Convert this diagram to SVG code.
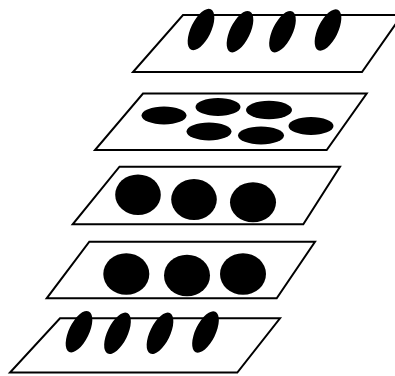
<svg xmlns="http://www.w3.org/2000/svg" width="395" height="376" viewBox="0 0 395 376">
<style>
.plane{fill:#fff;stroke:#000;stroke-width:2;stroke-linejoin:miter}
.dot{fill:#000}
</style>
<rect width="395" height="376" fill="#fff"/>
<g id="layer1">
<polygon class="plane" points="183,15 402,15 362,72 133,72"/>
<ellipse class="dot" cx="201" cy="29.5" rx="10" ry="22.5" transform="rotate(26 201 29.5)"/>
<ellipse class="dot" cx="240" cy="31.7" rx="10" ry="22.5" transform="rotate(26 240 31.7)"/>
<ellipse class="dot" cx="282.5" cy="31.7" rx="10" ry="22.5" transform="rotate(26 282.5 31.7)"/>
<ellipse class="dot" cx="328" cy="30" rx="10" ry="22.5" transform="rotate(26 328 30)"/>
</g>
<g id="layer2">
<polygon class="plane" points="143,93.5 366.7,93.5 326.7,150 95,150"/>
<ellipse class="dot" cx="164" cy="115.5" rx="22.5" ry="9"/>
<ellipse class="dot" cx="218" cy="107" rx="22.5" ry="9"/>
<ellipse class="dot" cx="269" cy="110" rx="23" ry="9.3"/>
<ellipse class="dot" cx="311" cy="126" rx="22.5" ry="9"/>
<ellipse class="dot" cx="209" cy="131.5" rx="22.5" ry="9"/>
<ellipse class="dot" cx="261" cy="135.5" rx="23" ry="9"/>
</g>
<g id="layer3">
<polygon class="plane" points="119.5,166.7 340,166.7 303.3,224.3 72.7,224.3"/>
<ellipse class="dot" cx="138" cy="194.7" rx="22.8" ry="20.3"/>
<ellipse class="dot" cx="194" cy="199.5" rx="22.8" ry="20.5"/>
<ellipse class="dot" cx="253" cy="202.3" rx="23" ry="20"/>
</g>
<g id="layer4">
<polygon class="plane" points="89.3,241.7 315,241.7 276.7,298.3 46.7,298.3"/>
<ellipse class="dot" cx="126.3" cy="274" rx="23" ry="20.8"/>
<ellipse class="dot" cx="187" cy="275.5" rx="23" ry="20.8"/>
<ellipse class="dot" cx="243" cy="274" rx="23" ry="20.8"/>
</g>
<g id="layer5">
<polygon class="plane" points="60,318.3 280,318.3 237.3,372.5 10,372.5"/>
<ellipse class="dot" cx="79" cy="331.7" rx="10" ry="22.5" transform="rotate(26 79 331.7)"/>
<ellipse class="dot" cx="117.5" cy="333.3" rx="10" ry="22.5" transform="rotate(26 117.5 333.3)"/>
<ellipse class="dot" cx="160" cy="333.3" rx="10" ry="22.5" transform="rotate(26 160 333.3)"/>
<ellipse class="dot" cx="205.5" cy="332" rx="10" ry="22.5" transform="rotate(26 205.5 332)"/>
</g>
<g id="connectors"></g>
</svg>
